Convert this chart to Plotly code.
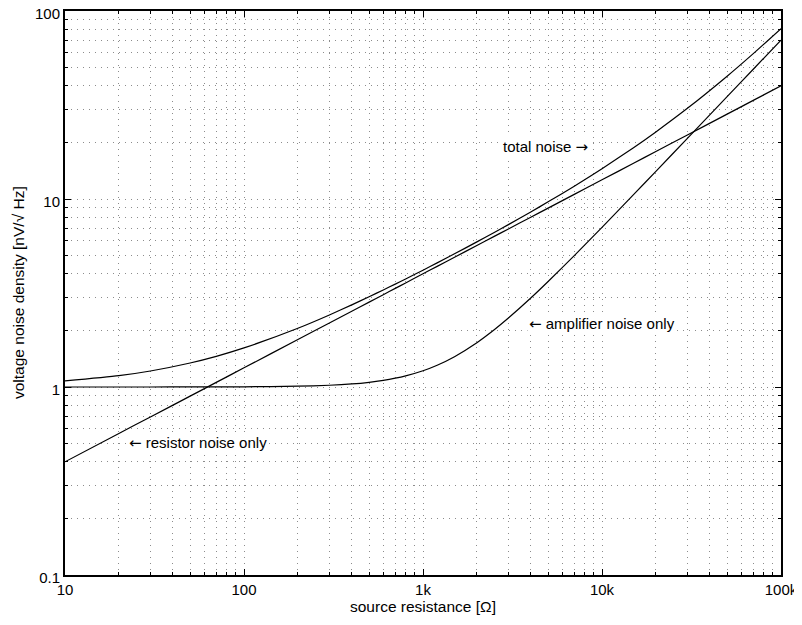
import plotly.graph_objects as go

# source resistance [ohm]
resistance = [10, 20, 30, 50, 70, 100, 200, 300, 400, 500, 600, 700, 800, 1000, 1200, 1500,
              2000, 2500, 3000, 4000, 5000, 7000, 10000, 15000, 20000, 30000, 50000, 70000, 100000]
# voltage noise density [nV/sqrt(Hz)]
resistor_noise = [0.40, 0.566, 0.693, 0.894, 1.058, 1.265, 1.789, 2.191, 2.530, 2.828, 3.098,
                  3.347, 3.578, 4.0, 4.382, 4.899, 5.657, 6.325, 6.928, 8.0, 8.944, 10.58,
                  12.65, 15.49, 17.89, 21.91, 28.28, 33.47, 40.0]
amplifier_noise = [1.0, 1.0, 1.0, 1.001, 1.001, 1.0025, 1.0098, 1.0218, 1.0385, 1.0595, 1.085,
                   1.1136, 1.146, 1.2207, 1.306, 1.450, 1.7205, 2.016, 2.326, 2.973, 3.640,
                   5.001, 7.071, 10.548, 14.036, 21.024, 35.014, 49.01, 70.0]
total_noise = [1.077, 1.149, 1.217, 1.342, 1.456, 1.614, 2.054, 2.417, 2.735, 3.020, 3.283,
               3.527, 3.757, 4.182, 4.572, 5.109, 5.913, 6.638, 7.308, 8.535, 9.657, 11.705,
               14.49, 18.74, 22.74, 30.36, 45.01, 59.35, 80.63]

x_tickvals = [10, 100, 1000, 10000, 100000]
x_ticktext = ["10", "100", "1k", "10k", "100k"]
y_tickvals = [0.1, 1, 10, 100]
y_ticktext = ["0.1", "1", "10", "100"]

FONT = "Liberation Sans, Arial, Helvetica, sans-serif"
ARROW = '<span style="font-family:DejaVu Sans">{}</span>'

fig = go.Figure()
for ys in (resistor_noise, amplifier_noise, total_noise):
    fig.add_trace(go.Scatter(x=resistance, y=ys, mode="lines", line_shape="spline",
                             line=dict(color="black", width=1.2, smoothing=0.6), showlegend=False,
                             hoverinfo="skip"))

grid = dict(showgrid=True, gridcolor="rgb(140,140,140)", griddash="1px,5px", gridwidth=1)
common = dict(type="log", showline=True, linecolor="black", linewidth=2, mirror="ticks",
              ticks="inside", ticklen=6, tickcolor="black", zeroline=False, automargin=False,
              ticklabeloverflow="allow",
              tickfont=dict(family=FONT, size=15, color="black"), **grid)

fig.update_xaxes(range=[1, 5], tickvals=x_tickvals, ticktext=x_ticktext,
                 minor=dict(dtick="D1", ticks="inside", ticklen=3, tickcolor="black", **grid),
                 **common)
fig.update_yaxes(range=[-1, 2], tickvals=y_tickvals, ticktext=y_ticktext, ticklabelshift=3,
                 minor=dict(dtick="D1", ticks="inside", ticklen=3, tickcolor="black", **grid),
                 **common)

title_font = dict(family=FONT, size=15.5, color="black")
fig.add_annotation(x=0.5, y=0, xref="paper", yref="paper", text="source resistance [Ω]",
                   showarrow=False, xanchor="center", yanchor="middle", yshift=-31, font=title_font)
fig.add_annotation(x=0, y=0.5, xref="paper", yref="paper", text="voltage noise density [nV/√ Hz]",
                   showarrow=False, textangle=-90, xanchor="center", yanchor="middle", xshift=-47,
                   font=title_font)

ann_font = dict(family=FONT, size=15, color="black")
fig.add_annotation(x=3.436, y=1.277, text="total noise " + ARROW.format("→"), showarrow=False,
                   xanchor="left", yanchor="middle", font=ann_font, bgcolor="white")
fig.add_annotation(x=3.581, y=0.335, text=ARROW.format("←") + " amplifier noise only", showarrow=False,
                   xanchor="left", yanchor="middle", font=ann_font, bgcolor="white")
fig.add_annotation(x=1.346, y=-0.298, text=ARROW.format("←") + " resistor noise only", showarrow=False,
                   xanchor="left", yanchor="middle", font=ann_font, bgcolor="white")

# page body has an 8px offset; size the figure so the plot area lands where the reference has it
fig.update_layout(width=794, height=617, margin=dict(l=57, r=21, t=3, b=50),
                  paper_bgcolor="white", plot_bgcolor="white", font=dict(family=FONT))
fig.write_html("out.html")
